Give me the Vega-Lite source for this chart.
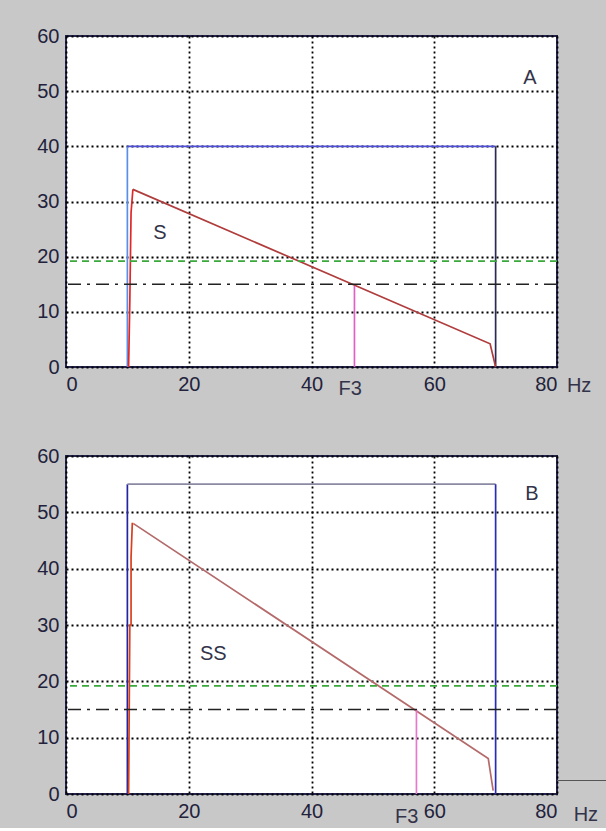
{
  "$schema": "https://vega.github.io/schema/vega-lite/v6.json",
  "background": "#c8c8c8",
  "padding": {"left": 35, "top": 25, "right": 0, "bottom": 0},
  "spacing": 44,
  "config": {
    "view": {"fill": "white", "stroke": "#24244e", "strokeWidth": 2},
    "axis": {"grid": true, "gridColor": "#000000", "gridDash": [2, 3], "gridWidth": 1.8, "domain": false, "ticks": false, "labelFont": "Liberation Sans", "labelFontSize": 20, "labelColor": "#22223c", "title": null, "labelPadding": 7},
    "text": {"font": "Liberation Sans"}
  },
  "datasets": {
    "lines": [
      {"p": "A", "s": "A_bL", "i": 1, "x": 10, "y": 0},
      {"p": "A", "s": "A_bL", "i": 2, "x": 10, "y": 40},
      {"p": "A", "s": "A_bT", "i": 1, "x": 10, "y": 40},
      {"p": "A", "s": "A_bT", "i": 2, "x": 70, "y": 40},
      {"p": "A", "s": "A_bR", "i": 1, "x": 70, "y": 40},
      {"p": "A", "s": "A_bR", "i": 2, "x": 70, "y": 0},
      {"p": "A", "s": "A_rV", "i": 1, "x": 10.2, "y": 0},
      {"p": "A", "s": "A_rV", "i": 2, "x": 10.4, "y": 12},
      {"p": "A", "s": "A_rV", "i": 3, "x": 10.6, "y": 28},
      {"p": "A", "s": "A_rV", "i": 4, "x": 10.9, "y": 32.2},
      {"p": "A", "s": "A_rD", "i": 1, "x": 10.9, "y": 32.2},
      {"p": "A", "s": "A_rD", "i": 2, "x": 69.1, "y": 4.2},
      {"p": "A", "s": "A_rD", "i": 3, "x": 70, "y": 0},
      {"p": "A", "s": "A_m", "i": 1, "x": 47, "y": 0},
      {"p": "A", "s": "A_m", "i": 2, "x": 47, "y": 14.7},
      {"p": "B", "s": "B_bL", "i": 1, "x": 10, "y": 0},
      {"p": "B", "s": "B_bL", "i": 2, "x": 10, "y": 55},
      {"p": "B", "s": "B_bT", "i": 1, "x": 10, "y": 55},
      {"p": "B", "s": "B_bT", "i": 2, "x": 70, "y": 55},
      {"p": "B", "s": "B_bR", "i": 1, "x": 70, "y": 55},
      {"p": "B", "s": "B_bR", "i": 2, "x": 70, "y": 0},
      {"p": "B", "s": "B_rV", "i": 1, "x": 10.2, "y": 0},
      {"p": "B", "s": "B_rV", "i": 2, "x": 10.4, "y": 30},
      {"p": "B", "s": "B_rV", "i": 3, "x": 10.6, "y": 30},
      {"p": "B", "s": "B_rV", "i": 4, "x": 10.6, "y": 42},
      {"p": "B", "s": "B_rV", "i": 5, "x": 10.8, "y": 48},
      {"p": "B", "s": "B_rV", "i": 6, "x": 11, "y": 48},
      {"p": "B", "s": "B_rD", "i": 1, "x": 11, "y": 48},
      {"p": "B", "s": "B_rD", "i": 2, "x": 68.8, "y": 6.3},
      {"p": "B", "s": "B_rD", "i": 3, "x": 69.6, "y": 0.6},
      {"p": "B", "s": "B_m", "i": 1, "x": 57.1, "y": 0},
      {"p": "B", "s": "B_m", "i": 2, "x": 57.1, "y": 15}
    ],
    "refs": [
      {"p": "A", "green": 19.2, "dd": 15},
      {"p": "B", "green": 19.2, "dd": 15}
    ],
    "texts": [
      {"p": "A", "x": 75.6, "y": 52.3, "t": "A"},
      {"p": "A", "x": 15.3, "y": 24.3, "t": "S"},
      {"p": "A", "x": 46.3, "y": -4.0, "t": "F3"},
      {"p": "A", "x": 83.6, "y": -3.4, "t": "Hz"},
      {"p": "B", "x": 75.9, "y": 53.2, "t": "B"},
      {"p": "B", "x": 24.0, "y": 24.8, "t": "SS"},
      {"p": "B", "x": 55.5, "y": -4.0, "t": "F3"},
      {"p": "B", "x": 84.7, "y": -3.8, "t": "Hz"}
    ],
    "stray": [
      {"p": "B", "x": 80, "x2": 88, "y": 2.4}
    ]
  },
  "vconcat": [
    {
      "width": 491,
      "height": 331,
      "layer": [
        {
          "data": {"name": "lines"},
          "transform": [{"filter": "datum.p == 'A'"}],
          "mark": {"type": "line", "strokeWidth": 1.7, "clip": false},
          "encoding": {
            "x": {"field": "x", "type": "quantitative", "scale": {"domain": [0, 80], "nice": false, "zero": false}, "axis": {"values": [0, 20, 40, 60, 80]}},
            "y": {"field": "y", "type": "quantitative", "scale": {"domain": [0, 60], "nice": false}, "axis": {"values": [0, 10, 20, 30, 40, 50, 60]}},
            "detail": {"field": "s"},
            "order": {"field": "i"},
            "color": {"field": "s", "type": "nominal", "legend": null,
              "scale": {"domain": ["A_bL", "A_bT", "A_bR", "A_rV", "A_rD", "A_m", "B_bL", "B_bT", "B_bR", "B_rV", "B_rD", "B_m"],
                        "range": ["#5a8ee8", "#4e4ed6", "#2a2a58", "#e02828", "#b03c3c", "#e060c8", "#2424a0", "#8a8aa4", "#2a2ab4", "#d8401c", "#b46a6a", "#e878cc"]}}
          }
        },
        {
          "data": {"name": "refs"},
          "transform": [{"filter": "datum.p == 'A'"}],
          "mark": {"type": "rule", "color": "#3aa83a", "strokeDash": [7, 5], "strokeWidth": 1.6},
          "encoding": {"y": {"field": "green", "type": "quantitative"}}
        },
        {
          "data": {"name": "refs"},
          "transform": [{"filter": "datum.p == 'A'"}],
          "mark": {"type": "rule", "color": "#222222", "strokeDash": [13, 6, 3, 6], "strokeWidth": 1.7},
          "encoding": {"y": {"field": "dd", "type": "quantitative"}}
        },
        {
          "data": {"name": "texts"},
          "transform": [{"filter": "datum.p == 'A'"}],
          "mark": {"type": "text", "fontSize": 20, "color": "#33334a", "baseline": "middle", "align": "center", "clip": false},
          "encoding": {
            "x": {"field": "x", "type": "quantitative"},
            "y": {"field": "y", "type": "quantitative"},
            "text": {"field": "t"}
          }
        }
      ]
    },
    {
      "width": 491,
      "height": 338,
      "layer": [
        {
          "data": {"name": "lines"},
          "transform": [{"filter": "datum.p == 'B'"}],
          "mark": {"type": "line", "strokeWidth": 1.7, "clip": false},
          "encoding": {
            "x": {"field": "x", "type": "quantitative", "scale": {"domain": [0, 80], "nice": false, "zero": false}, "axis": {"values": [0, 20, 40, 60, 80]}},
            "y": {"field": "y", "type": "quantitative", "scale": {"domain": [0, 60], "nice": false}, "axis": {"values": [0, 10, 20, 30, 40, 50, 60]}},
            "detail": {"field": "s"},
            "order": {"field": "i"},
            "color": {"field": "s", "type": "nominal", "legend": null,
              "scale": {"domain": ["A_bL", "A_bT", "A_bR", "A_rV", "A_rD", "A_m", "B_bL", "B_bT", "B_bR", "B_rV", "B_rD", "B_m"],
                        "range": ["#5a8ee8", "#4e4ed6", "#2a2a58", "#e02828", "#b03c3c", "#e060c8", "#2424a0", "#8a8aa4", "#2a2ab4", "#d8401c", "#b46a6a", "#e878cc"]}}
          }
        },
        {
          "data": {"name": "refs"},
          "transform": [{"filter": "datum.p == 'B'"}],
          "mark": {"type": "rule", "color": "#3aa83a", "strokeDash": [7, 5], "strokeWidth": 1.6},
          "encoding": {"y": {"field": "green", "type": "quantitative"}}
        },
        {
          "data": {"name": "refs"},
          "transform": [{"filter": "datum.p == 'B'"}],
          "mark": {"type": "rule", "color": "#222222", "strokeDash": [13, 6, 3, 6], "strokeWidth": 1.7},
          "encoding": {"y": {"field": "dd", "type": "quantitative"}}
        },
        {
          "data": {"name": "stray"},
          "mark": {"type": "rule", "color": "#555555", "strokeWidth": 1.2, "clip": false},
          "encoding": {
            "x": {"field": "x", "type": "quantitative"},
            "x2": {"field": "x2"},
            "y": {"field": "y", "type": "quantitative"}
          }
        },
        {
          "data": {"name": "texts"},
          "transform": [{"filter": "datum.p == 'B'"}],
          "mark": {"type": "text", "fontSize": 20, "color": "#33334a", "baseline": "middle", "align": "center", "clip": false},
          "encoding": {
            "x": {"field": "x", "type": "quantitative"},
            "y": {"field": "y", "type": "quantitative"},
            "text": {"field": "t"}
          }
        }
      ]
    }
  ]
}
